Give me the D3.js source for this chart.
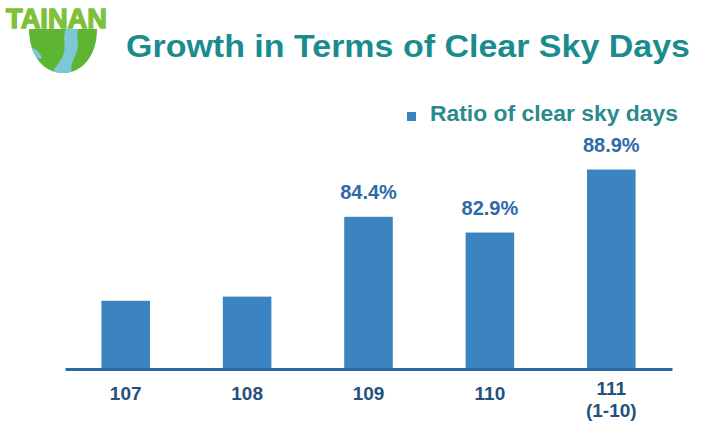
<!DOCTYPE html>
<html>
<head>
<meta charset="utf-8">
<script src="https://cdn.jsdelivr.net/npm/d3@7"></script>
<style>
  body { margin: 0; background: #fff; }
  svg { display: block; font-family: "Liberation Sans", Arial, sans-serif; }
</style>
</head>
<body>
<script>
// chart values
const years = ["107", "108", "109", "110", "111"];
const subLabels = ["", "", "", "", "(1-10)"];
const ratio = [76.4, 76.8, 84.4, 82.9, 88.9];
const valueLabels = [null, null, "84.4%", "82.9%", "88.9%"];
const legendLabel = "Ratio of clear sky days";
const titleText = "Growth in Terms of Clear Sky Days";

const width = 706, height = 430;
const barColor = "#3b84c1";

const svg = d3.select("body").append("svg").attr("width", width).attr("height", height);

// logo: globe + TAINAN
const logo = svg.append("g");
const globe = d3.path();
globe.moveTo(29, 29);
globe.lineTo(97, 29);
globe.bezierCurveTo(97, 56, 82, 73, 63, 73);
globe.bezierCurveTo(44, 73, 29, 56, 29, 29);
globe.closePath();
logo.append("clipPath").attr("id", "globeClip").append("path").attr("d", globe.toString());
logo.append("path").attr("d", globe.toString()).attr("fill", "#5db533");
const g2 = logo.append("g").attr("clip-path", "url(#globeClip)");
// light blue sea band
g2.append("path").attr("d", "M50,76 C56,66 62,60 64,52 C66,44 62,38 66,29 L78,29 C76,38 80,44 76,54 C72,62 70,68 72,76 Z").attr("fill", "#7cc8d6");
g2.append("path").attr("d", "M29,46 C35,48 40,52 42,58 C37,60 33,56 29,54 Z").attr("fill", "#7cc8d6");
logo.append("text").attr("x", 6).attr("y", 28)
  .style("font-weight", "bold")
  .attr("font-size", 28).attr("fill", "#7dc13a")
  .attr("stroke", "#7dc13a").attr("stroke-width", 1.4)
  .attr("textLength", 101).attr("lengthAdjust", "spacingAndGlyphs")
  .text("TAINAN");

// title
svg.append("text").attr("x", 126).attr("y", 57)
  .attr("font-size", 31).attr("font-weight", "bold").attr("fill", "#1a8c8e")
  .attr("textLength", 564).attr("lengthAdjust", "spacingAndGlyphs")
  .text(titleText);

// legend
svg.append("rect").attr("x", 407).attr("y", 112).attr("width", 9).attr("height", 9).attr("fill", barColor);
svg.append("text").attr("x", 430).attr("y", 121)
  .attr("font-size", 22).attr("font-weight", "bold").attr("fill", "#2a8a8c")
  .attr("textLength", 248).attr("lengthAdjust", "spacingAndGlyphs")
  .text(legendLabel);

// scales
const x = d3.scaleBand().domain(years).range([65, 672]).paddingInner(0.6).paddingOuter(0.3);
const y = d3.scaleLinear().domain([70, 90]).range([368, 158]);

const data = years.map((yr, i) => ({ yr, sub: subLabels[i], v: ratio[i], lab: valueLabels[i] }));

// bars
svg.append("g").selectAll("rect")
  .data(data)
  .enter().append("rect")
  .attr("x", d => x(d.yr))
  .attr("y", d => y(d.v))
  .attr("width", x.bandwidth())
  .attr("height", d => y(70) - y(d.v))
  .attr("fill", barColor);

// value labels
svg.append("g").selectAll("text")
  .data(data.filter(d => d.lab))
  .enter().append("text")
  .attr("x", d => x(d.yr) + x.bandwidth() / 2)
  .attr("y", d => y(d.v) - 18)
  .attr("text-anchor", "middle")
  .attr("font-size", 20).attr("font-weight", "bold").attr("fill", "#2e6aa6")
  .text(d => d.lab);

// x axis
const axis = svg.append("g").attr("transform", `translate(0,${y(70) + 1})`)
  .call(d3.axisBottom(x).tickSize(0).tickPadding(0));
axis.select(".domain").attr("stroke", "#2a6aa5").attr("stroke-width", 3);
axis.selectAll(".tick text").remove();
axis.selectAll(".tick").each(function (yr, i) {
  const t = d3.select(this).append("text")
    .attr("text-anchor", "middle")
    .attr("font-size", 19).attr("font-weight", "bold").attr("fill", "#24507e")
    .attr("font-family", "Liberation Sans, Arial, sans-serif");
  t.append("tspan").attr("x", 0).attr("y", subLabels[i] ? 26 : 31).text(yr);
  if (subLabels[i]) t.append("tspan").attr("x", 0).attr("y", 48).text(subLabels[i]);
});
</script>
</body>
</html>
